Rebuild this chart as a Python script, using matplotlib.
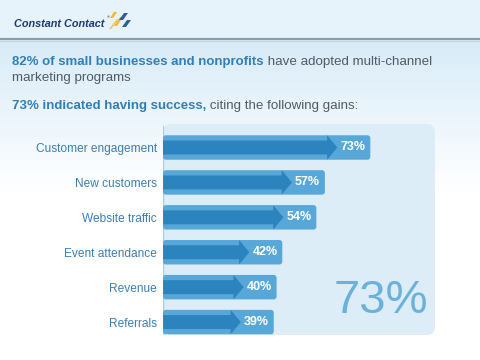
import numpy as np
import matplotlib.pyplot as plt
from matplotlib.patches import FancyBboxPatch, Polygon, Rectangle

plt.rcParams['font.family'] = ['Liberation Sans', 'DejaVu Sans']

# ---------------------------------------------------------------
# Data
# ---------------------------------------------------------------
categories = ["Customer engagement", "New customers", "Website traffic",
              "Event attendance", "Revenue", "Referrals"]
gains = [73, 57, 54, 42, 40, 39]
overall_success = 73
adopted = 82

BLUE_TXT = "#2f7fba"
GRAY_TXT = "#4f5b66"
BAR_LIGHT = "#57a8d8"
BAR_DARK = "#2b84be"
PANEL = "#ddedf8"

fig = plt.figure(figsize=(4.8, 3.6), dpi=100)

# ---------------------------------------------------------------
# Background (pixel coordinates)
# ---------------------------------------------------------------
bg = fig.add_axes([0, 0, 1, 1])
bg.set_xlim(0, 480)
bg.set_ylim(360, 0)
bg.axis("off")

grad = np.ones((360, 1, 3))
top = np.array([0xd8, 0xeb, 0xf7]) / 255.0
for i in range(360):
    t = np.clip((i - 40) / 150.0, 0, 1)
    grad[i, 0] = top * (1 - t) + np.array([1.0, 1.0, 1.0]) * t
bg.imshow(grad, extent=(0, 480, 360, 0), aspect="auto", zorder=0)
bg.add_patch(Rectangle((0, 0), 480, 38, color="#e7f3fb", zorder=1, lw=0))
bg.plot([0, 480], [38.5, 38.5], color="#8d9ca6", lw=1.6, zorder=2)
bg.plot([0, 480], [40.5, 40.5], color="#c5d3dc", lw=0.8, zorder=2)

# logo
bg.text(14, 24, "Constant Contact", fontsize=7.8, fontweight="bold",
        fontstyle="italic", color="#1d3c74", va="center", ha="left", zorder=3)
bg.text(107, 17, "\u00ae", fontsize=3, color="#1d3c74", va="center", zorder=3)
icon = [([110, 18], [114, 12], [117, 12], [113, 18], "#f2b72a"),
        ([114, 26], [120, 17], [123, 17], [117, 26], "#f2b72a"),
        ([119, 20], [124, 13], [128, 13], [123, 20], "#2c5e9e"),
        ([122, 27], [127, 20], [131, 20], [126, 27], "#2c5e9e"),
        ([109, 29], [117, 19], [119, 19], [111, 29], "#e8c565")]
for a, b, c, d, col in icon:
    bg.add_patch(Polygon([a, b, c, d], closed=True, color=col, lw=0, zorder=3))

# headline text
t1 = bg.text(12, 62, f"{adopted}% of small businesses and nonprofits",
             fontsize=9.5, fontweight="bold", color=BLUE_TXT, va="center")
bg.annotate(" have adopted multi-channel", xy=(1, 0), xycoords=t1,
            va="bottom", ha="left", fontsize=9.6, color=GRAY_TXT)
bg.text(12, 78, "marketing programs", fontsize=9.6, color=GRAY_TXT,
        va="center")
t2 = bg.text(12, 106, f"{overall_success}% indicated having success,",
             fontsize=9.5, fontweight="bold", color=BLUE_TXT, va="center")
bg.annotate(" citing the following gains:", xy=(1, 0), xycoords=t2,
            va="bottom", ha="left", fontsize=9.6, color=GRAY_TXT)

# ---------------------------------------------------------------
# Bar panel
# ---------------------------------------------------------------
ax = fig.add_axes([163 / 480, 1 - 335 / 360, 272 / 480, 211 / 360])
ax.set_xlim(0, 272 / 2.84)
ax.set_ylim(5.37, -0.673)
ax.patch.set_alpha(0)
for s in ax.spines.values():
    s.set_visible(False)
ax.set_xticks([])
y = np.arange(len(categories))
ax.set_yticks(y, categories)
ax.tick_params(axis="y", length=0, pad=4.5, labelsize=8.6,
               labelcolor="#3b7db4")

ax.add_patch(FancyBboxPatch((0, -0.673), 272 / 2.84, 5.37 + 0.673,
                            boxstyle="round,pad=0,rounding_size=3",
                            mutation_aspect=2.84 / 34.9,
                            facecolor=PANEL, edgecolor="none", zorder=0,
                            clip_on=False))
ax.plot([0, 0], [-0.62, 5.37], color="#a9cde6", lw=1, zorder=1)

bar_h = 0.70
body_h = 0.40
for yi, v in zip(y, gains):
    ax.add_patch(FancyBboxPatch((0, yi - bar_h / 2), v, bar_h,
                                boxstyle="round,pad=0,rounding_size=1.0",
                                mutation_aspect=2.84 / 34.9,
                                facecolor=BAR_LIGHT, edgecolor="none",
                                zorder=2))
    base = v - 15.2
    tip = v - 11.6
    arrow = [(0, yi - body_h / 2), (base, yi - body_h / 2),
             (base, yi - bar_h / 2), (tip, yi), (base, yi + bar_h / 2),
             (base, yi + body_h / 2), (0, yi + body_h / 2)]
    ax.add_patch(Polygon(arrow, closed=True, facecolor=BAR_DARK,
                         edgecolor="none", zorder=3))
    ax.text(v - 1.7, yi, f"{v}%", ha="right", va="center", fontsize=9,
            fontweight="bold", color="white", zorder=4)

ax.text(381 / 2.84 - 163 / 2.84, 4.4, f"{overall_success}%", fontsize=34,
        color="#6ab1db", ha="center", va="center", zorder=4)

fig.savefig("out.png", dpi=100)
